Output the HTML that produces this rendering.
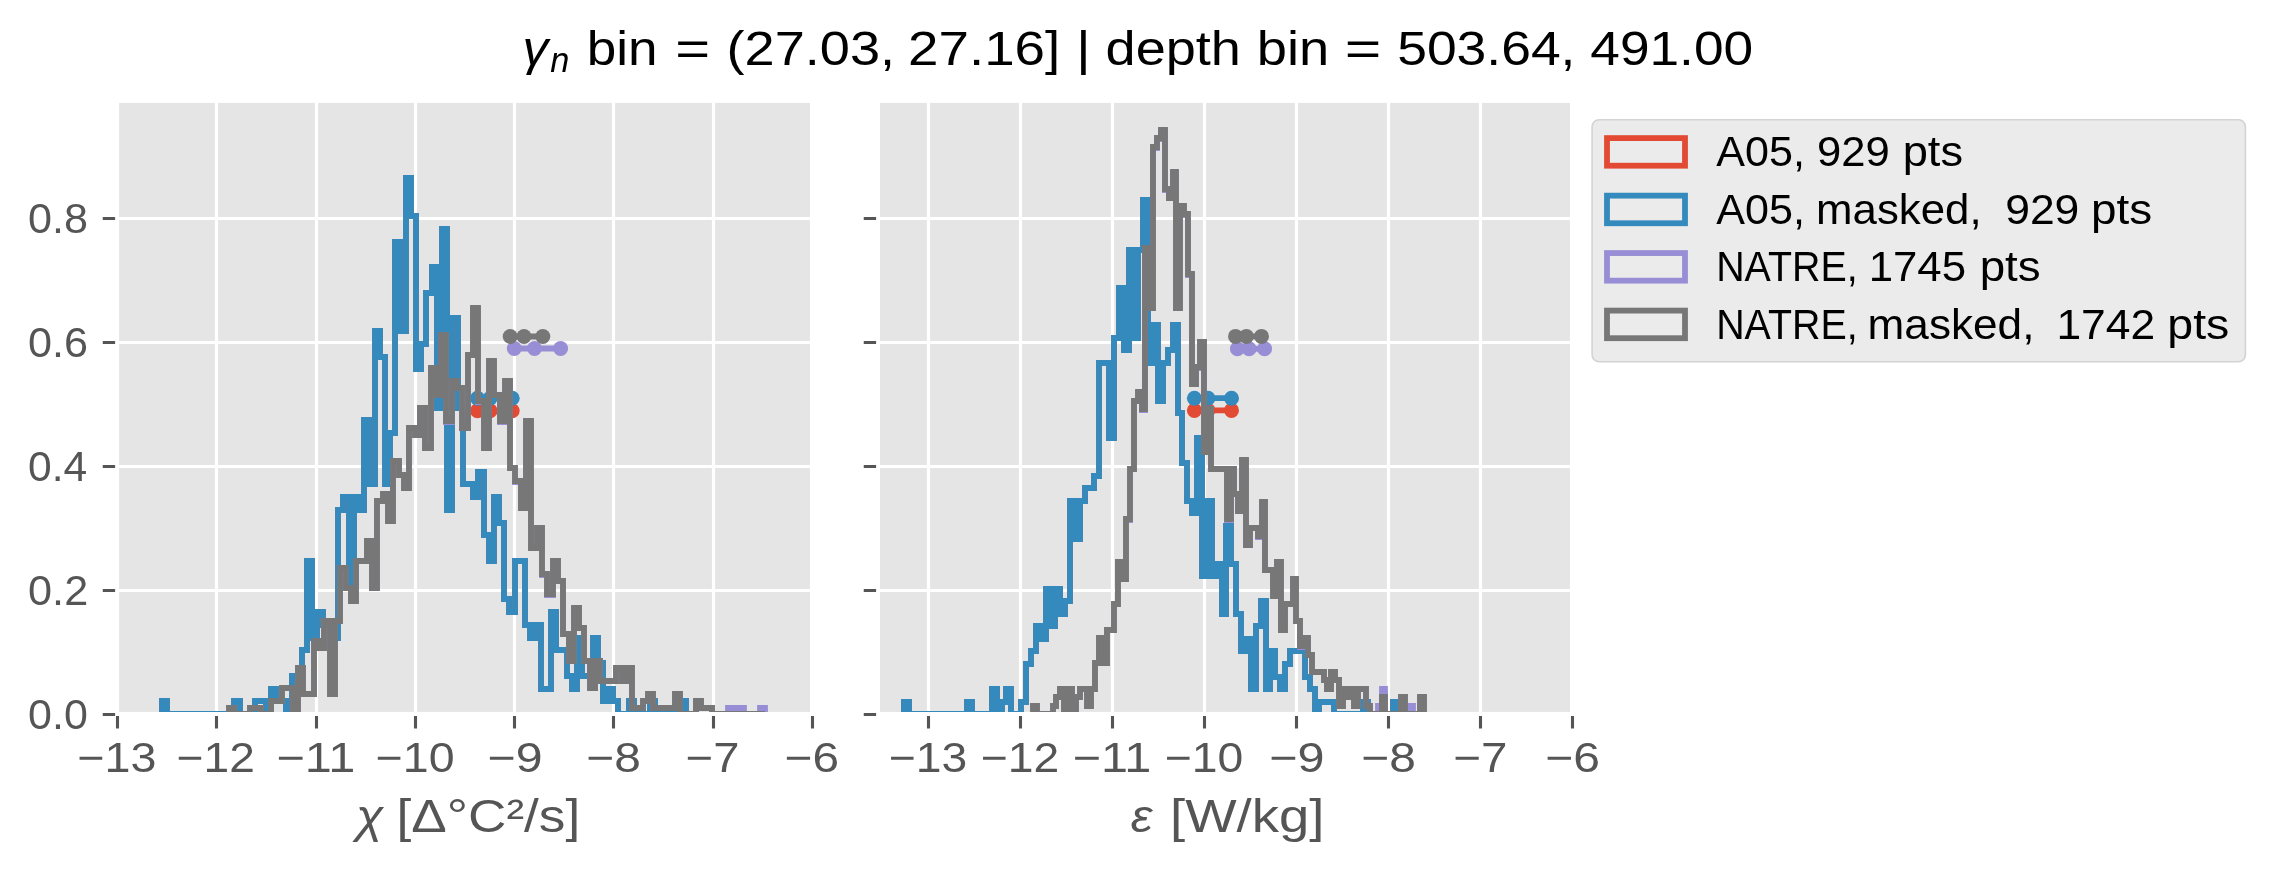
<!DOCTYPE html>
<html><head><meta charset="utf-8"><title>hist</title>
<style>html,body{margin:0;padding:0;background:#fff;overflow:hidden;}svg{display:block}text{font-family:"Liberation Sans",sans-serif;}</style></head><body>
<svg width="2272" height="872" viewBox="0 0 2272 872">
<rect width="2272" height="872" fill="#fff"/>
<defs>
<clipPath id="cl"><rect x="119.0" y="102.9" width="691.0" height="609.0"/></clipPath>
<clipPath id="cr"><rect x="880.0" y="102.9" width="690.0" height="609.0"/></clipPath>
<filter id="gs" filterUnits="userSpaceOnUse" x="0" y="0" width="2272" height="872"><feColorMatrix type="saturate" values="0"/></filter>
</defs>
<rect x="119.0" y="102.9" width="691.0" height="609.00" fill="#E5E5E5"/>
<g clip-path="url(#cl)"><path d="M117.5 102.9V711.9M216.5 102.9V711.9M316.5 102.9V711.9M415.5 102.9V711.9M514.5 102.9V711.9M613.5 102.9V711.9M713.5 102.9V711.9M119.0 590.5H810.0M119.0 466.5H810.0M119.0 342.5H810.0M119.0 218.5H810.0" stroke="#fff" stroke-width="3.2" fill="none"/></g>
<path d="M117.5 716V728.5M216.5 716V728.5M316.5 716V728.5M415.5 716V728.5M514.5 716V728.5M613.5 716V728.5M713.5 716V728.5M812.5 716V728.5M102.75 714.5H115.10M102.75 590.5H115.10M102.75 466.5H115.10M102.75 342.5H115.10M102.75 218.5H115.10" stroke="#555555" stroke-width="3.1" fill="none"/>
<rect x="880.0" y="102.9" width="690.0" height="609.00" fill="#E5E5E5"/>
<g clip-path="url(#cr)"><path d="M928.5 102.9V711.9M1020.5 102.9V711.9M1112.5 102.9V711.9M1204.5 102.9V711.9M1296.5 102.9V711.9M1388.5 102.9V711.9M1480.5 102.9V711.9M880.0 590.5H1570.0M880.0 466.5H1570.0M880.0 342.5H1570.0M880.0 218.5H1570.0" stroke="#fff" stroke-width="3.2" fill="none"/></g>
<path d="M928.5 716V728.5M1020.5 716V728.5M1112.5 716V728.5M1204.5 716V728.5M1296.5 716V728.5M1388.5 716V728.5M1480.5 716V728.5M1572.5 716V728.5M863.75 714.5H876.10M863.75 590.5H876.10M863.75 466.5H876.10M863.75 342.5H876.10M863.75 218.5H876.10" stroke="#555555" stroke-width="3.1" fill="none"/>
<g clip-path="url(#cl)" fill="none" stroke-linejoin="miter" stroke-linecap="butt">
<path d="M162 714V701H167V714H234V701H240V714H255V701H266V714H271V689H276V701H286V714H292V676H302V650H307V561H312V638H317V612H323V625H333V638H338V510H343V497H349V586H354V497H359V510H364V420H369V484H375V331H380V357H385V484H390V433H395V242H400V331H406V178H411V216H416V369H421V344H426V293H432V267H437V408H442V229H447V510H452V318H458V408H463V484H473V497H478V472H484V535H489V561H494V497H499V523H504V599H509V612H515V561H525V625H530V638H535V625H541V689H551V612H556V650H567V676H572V689H577V638H582V676H593V638H598V663H603V701H608V689H613V701H618V714H629V701H634V714H650V701H655V714H681V701H686V714" stroke="#E24A33" stroke-width="5.8"/>
<path d="M477.50 410.80H512.20" stroke="#E24A33" stroke-width="5.8"/>
<circle cx="477.50" cy="410.80" r="7.5" fill="#E24A33" stroke="none"/>
<circle cx="490.10" cy="410.80" r="7.5" fill="#E24A33" stroke="none"/>
<circle cx="512.20" cy="410.80" r="7.5" fill="#E24A33" stroke="none"/>
<path d="M162 714V701H167V714H234V701H240V714H255V701H266V714H271V689H276V701H286V714H292V676H302V650H307V561H312V638H317V612H323V625H333V638H338V510H343V497H349V586H354V497H359V510H364V420H369V484H375V331H380V357H385V484H390V433H395V242H400V331H406V178H411V216H416V369H421V344H426V293H432V267H437V408H442V229H447V510H452V318H458V408H463V484H473V497H478V472H484V535H489V561H494V497H499V523H504V599H509V612H515V561H525V625H530V638H535V625H541V689H551V612H556V650H567V676H572V689H577V638H582V676H593V638H598V663H603V701H608V689H613V701H618V714H629V701H634V714H650V701H655V714H681V701H686V714" stroke="#348ABD" stroke-width="5.8"/>
<path d="M477.50 398.20H512.20" stroke="#348ABD" stroke-width="5.8"/>
<circle cx="477.50" cy="398.20" r="7.5" fill="#348ABD" stroke="none"/>
<circle cx="490.10" cy="398.20" r="7.5" fill="#348ABD" stroke="none"/>
<circle cx="512.20" cy="398.20" r="7.5" fill="#348ABD" stroke="none"/>
<path d="M229 714V708H234V714H250V708H261V714H271V701H282V688H293V714H298V668H303V694H314V641H319V648H324V621H330V694H335V621H340V568H346V588H351V601H356V561H367V541H372V588H377V501H383V495H388V521H393V462H399V475H404V488H409V428H415V435H420V408H425V448H431V369H436V395H441V335H446V422H452V382H457V388H462V428H468V355H473V309H478V402H484V448H489V362H494V395H500V422H505V382H510V468H515V482H521V508H526V422H531V548H537V528H542V575H547V595H553V561H558V581H563V634H569V661H574V608H579V628H584V661H590V688H595V661H600V681H616V668H622V681H627V668H632V708H643V701H648V694H653V708H675V694H680V714H696V701H701V708H712V714H728V708H744V714H760V708H765V714" stroke="#988ED5" stroke-width="5.8"/>
<path d="M229 714V708H234V714H250V708H261V714H271V701H282V688H293V714H298V668H303V694H314V641H319V648H324V621H330V694H335V621H340V568H346V588H351V601H356V561H367V541H372V588H377V501H383V494H388V521H393V461H399V475H404V488H409V428H415V435H420V408H425V448H431V368H436V395H441V335H446V421H452V381H457V388H462V428H468V355H473V308H478V401H484V448H489V361H494V395H500V421H505V381H510V468H515V481H521V508H526V421H531V548H537V528H542V574H547V594H553V561H558V581H563V634H569V661H574V608H579V628H584V661H590V688H595V661H600V681H616V668H622V681H627V668H632V708H643V701H648V694H653V708H675V694H680V714H696V701H701V708H712V714H765V714" stroke="#777777" stroke-width="5.8"/>
<path d="M514.30 348.50H560.60" stroke="#988ED5" stroke-width="5.8"/>
<circle cx="514.30" cy="348.50" r="7.5" fill="#988ED5" stroke="none"/>
<circle cx="534.50" cy="348.50" r="7.5" fill="#988ED5" stroke="none"/>
<circle cx="560.60" cy="348.50" r="7.5" fill="#988ED5" stroke="none"/>
<path d="M510.20 336.50H542.80" stroke="#777777" stroke-width="5.8"/>
<circle cx="510.20" cy="336.50" r="7.5" fill="#777777" stroke="none"/>
<circle cx="524.00" cy="336.50" r="7.5" fill="#777777" stroke="none"/>
<circle cx="542.80" cy="336.50" r="7.5" fill="#777777" stroke="none"/>
</g>
<g clip-path="url(#cr)" fill="none" stroke-linejoin="miter" stroke-linecap="butt">
<path d="M904 714V702H909V714H967V702H972V714H992V689H997V714H1002V702H1006V689H1011V714H1021V702H1026V664H1031V651H1036V626H1041V639H1046V589H1050V626H1055V589H1060V614H1065V601H1070V501H1075V539H1080V501H1085V488H1094V476H1099V363H1109V438H1114V338H1119V288H1124V350H1129V250H1134V338H1138V250H1143V200H1148V363H1153V325H1158V401H1163V363H1168V350H1173V325H1178V413H1182V463H1187V501H1192V513H1197V438H1202V576H1207V501H1212V576H1217V564H1222V614H1226V526H1231V564H1236V614H1241V651H1246V639H1251V689H1256V626H1261V601H1266V689H1270V651H1275V677H1280V689H1285V664H1290V651H1305V677H1310V689H1315V714H1319V702H1334V714H1363V702H1368V714H1393V702H1398V714" stroke="#E24A33" stroke-width="5.8"/>
<path d="M1194.40 410.40H1231.50" stroke="#E24A33" stroke-width="5.8"/>
<circle cx="1194.40" cy="410.40" r="7.5" fill="#E24A33" stroke="none"/>
<circle cx="1208.00" cy="410.40" r="7.5" fill="#E24A33" stroke="none"/>
<circle cx="1231.50" cy="410.40" r="7.5" fill="#E24A33" stroke="none"/>
<path d="M904 714V702H909V714H967V702H972V714H992V689H997V714H1002V702H1006V689H1011V714H1021V702H1026V664H1031V651H1036V626H1041V639H1046V589H1050V626H1055V589H1060V614H1065V601H1070V501H1075V539H1080V501H1085V488H1094V476H1099V363H1109V438H1114V338H1119V288H1124V350H1129V250H1134V338H1138V250H1143V200H1148V363H1153V325H1158V401H1163V363H1168V350H1173V325H1178V413H1182V463H1187V501H1192V513H1197V438H1202V576H1207V501H1212V576H1217V564H1222V614H1226V526H1231V564H1236V614H1241V651H1246V639H1251V689H1256V626H1261V601H1266V689H1270V651H1275V677H1280V689H1285V664H1290V651H1305V677H1310V689H1315V714H1319V702H1334V714H1363V702H1368V714H1393V702H1398V714" stroke="#348ABD" stroke-width="5.8"/>
<path d="M1194.40 398.20H1231.50" stroke="#348ABD" stroke-width="5.8"/>
<circle cx="1194.40" cy="398.20" r="7.5" fill="#348ABD" stroke="none"/>
<circle cx="1208.00" cy="398.20" r="7.5" fill="#348ABD" stroke="none"/>
<circle cx="1231.50" cy="398.20" r="7.5" fill="#348ABD" stroke="none"/>
<path d="M1033 714V706H1037V714H1053V706H1056V697H1060V689H1064V714H1068V689H1072V714H1076V697H1080V689H1087V706H1091V689H1095V663H1099V638H1103V663H1107V630H1114V604H1118V562H1122V579H1126V520H1130V469H1134V401H1138V393H1142V410H1145V249H1149V308H1153V148H1157V139H1161V131H1165V190H1169V198H1173V173H1176V308H1180V207H1184V215H1188V275H1192V384H1196V368H1200V342H1204V452H1207V410H1211V469H1227V520H1231V469H1234V494H1238V511H1242V461H1246V545H1250V528H1258V537H1262V503H1265V570H1273V596H1277V562H1281V630H1285V604H1293V579H1296V621H1300V647H1304V638H1308V655H1312V672H1324V680H1327V689H1331V672H1335V680H1339V706H1343V689H1347V697H1351V689H1354V706H1358V689H1366V706H1370V714H1378V706H1382V689H1385V714H1401V697H1405V714H1409V706H1413V714H1420V697H1424V714" stroke="#988ED5" stroke-width="5.8"/>
<path d="M1033 714V706H1037V714H1053V706H1056V697H1060V689H1064V714H1068V689H1072V714H1076V697H1080V689H1087V706H1091V689H1095V663H1099V638H1103V663H1107V630H1114V604H1118V562H1122V579H1126V519H1130V469H1134V401H1138V392H1142V409H1145V248H1149V308H1153V147H1157V138H1161V130H1165V189H1169V198H1173V172H1176V308H1180V206H1184V214H1188V274H1192V384H1196V367H1200V342H1204V452H1207V409H1211V469H1227V519H1231V469H1234V494H1238V511H1242V460H1246V545H1250V528H1258V536H1262V502H1265V570H1273V596H1277V562H1281V630H1285V604H1293V579H1296V621H1300V646H1304V638H1308V655H1312V672H1324V680H1327V689H1331V672H1335V680H1339V706H1343V689H1347V697H1351V689H1354V706H1358V689H1366V706H1370V714H1382V697H1385V714H1401V697H1405V714H1420V697H1424V714" stroke="#777777" stroke-width="5.8"/>
<path d="M1237.40 348.80H1264.60" stroke="#988ED5" stroke-width="5.8"/>
<circle cx="1237.40" cy="348.80" r="7.5" fill="#988ED5" stroke="none"/>
<circle cx="1249.10" cy="348.80" r="7.5" fill="#988ED5" stroke="none"/>
<circle cx="1264.60" cy="348.80" r="7.5" fill="#988ED5" stroke="none"/>
<path d="M1235.50 336.40H1261.50" stroke="#777777" stroke-width="5.8"/>
<circle cx="1235.50" cy="336.40" r="7.5" fill="#777777" stroke="none"/>
<circle cx="1246.40" cy="336.40" r="7.5" fill="#777777" stroke="none"/>
<circle cx="1261.50" cy="336.40" r="7.5" fill="#777777" stroke="none"/>
</g>
<rect x="1592.1" y="119.7" width="653.3" height="242.1" rx="7" ry="7" fill="#EBEBEB" stroke="#D3D3D3" stroke-width="1.6"/>
<rect x="1607" y="138.10" width="78" height="27.6" fill="none" stroke="#E24A33" stroke-width="5.8"/>
<rect x="1607" y="195.65" width="78" height="27.6" fill="none" stroke="#348ABD" stroke-width="5.8"/>
<rect x="1607" y="253.05" width="78" height="27.6" fill="none" stroke="#988ED5" stroke-width="5.8"/>
<rect x="1607" y="310.60" width="78" height="27.6" fill="none" stroke="#777777" stroke-width="5.8"/>
<g filter="url(#gs)">
<text x="522.63" y="64.9" font-size="47.5" fill="#000" text-anchor="start" textLength="25.8" lengthAdjust="spacingAndGlyphs" font-style="italic">γ</text>
<text x="550.16" y="72.0" font-size="34.5" fill="#000" text-anchor="start" textLength="19.06" lengthAdjust="spacingAndGlyphs" font-style="italic">n</text>
<text x="586.66" y="64.9" font-size="47.5" fill="#000" text-anchor="start" textLength="70.87" lengthAdjust="spacingAndGlyphs">bin</text>
<text x="675.17" y="64.9" font-size="47.5" fill="#000" text-anchor="start" textLength="34.89" lengthAdjust="spacingAndGlyphs">=</text>
<text x="726.54" y="64.9" font-size="47.5" fill="#000" text-anchor="start" textLength="168.49" lengthAdjust="spacingAndGlyphs">(27.03,</text>
<text x="908.06" y="64.9" font-size="47.5" fill="#000" text-anchor="start" textLength="152.26" lengthAdjust="spacingAndGlyphs">27.16]</text>
<text x="1075.94" y="64.9" font-size="47.5" fill="#000" text-anchor="start" textLength="14.84" lengthAdjust="spacingAndGlyphs">|</text>
<text x="1105.58" y="64.9" font-size="47.5" fill="#000" text-anchor="start" textLength="135.37" lengthAdjust="spacingAndGlyphs">depth</text>
<text x="1256.75" y="64.9" font-size="47.5" fill="#000" text-anchor="start" textLength="72.47" lengthAdjust="spacingAndGlyphs">bin</text>
<text x="1344.67" y="64.9" font-size="47.5" fill="#000" text-anchor="start" textLength="36.59" lengthAdjust="spacingAndGlyphs">=</text>
<text x="1397.16" y="64.9" font-size="47.5" fill="#000" text-anchor="start" textLength="178.31" lengthAdjust="spacingAndGlyphs">503.64,</text>
<text x="1590.3" y="64.9" font-size="47.5" fill="#000" text-anchor="start" textLength="162.85" lengthAdjust="spacingAndGlyphs">491.00</text>
<text x="28.09" y="729.4" font-size="42" fill="#555555" text-anchor="start" textLength="59.78" lengthAdjust="spacingAndGlyphs">0.0</text>
<text x="28.07" y="605.42" font-size="42" fill="#555555" text-anchor="start" textLength="60.12" lengthAdjust="spacingAndGlyphs">0.2</text>
<text x="28.12" y="481.44" font-size="42" fill="#555555" text-anchor="start" textLength="59.17" lengthAdjust="spacingAndGlyphs">0.4</text>
<text x="28.07" y="357.46" font-size="42" fill="#555555" text-anchor="start" textLength="60.03" lengthAdjust="spacingAndGlyphs">0.6</text>
<text x="28.07" y="233.48" font-size="42" fill="#555555" text-anchor="start" textLength="59.99" lengthAdjust="spacingAndGlyphs">0.8</text>
<text x="77.35" y="772.2" font-size="42" fill="#555555" text-anchor="start" textLength="79.21" lengthAdjust="spacingAndGlyphs">−13</text>
<text x="888.71" y="772.2" font-size="42" fill="#555555" text-anchor="start" textLength="78.48" lengthAdjust="spacingAndGlyphs">−13</text>
<text x="176.61" y="772.2" font-size="42" fill="#555555" text-anchor="start" textLength="78.2" lengthAdjust="spacingAndGlyphs">−12</text>
<text x="980.74" y="772.2" font-size="42" fill="#555555" text-anchor="start" textLength="78.48" lengthAdjust="spacingAndGlyphs">−12</text>
<text x="276.47" y="772.2" font-size="42" fill="#555555" text-anchor="start" textLength="78.89" lengthAdjust="spacingAndGlyphs">−11</text>
<text x="1072.65" y="772.2" font-size="42" fill="#555555" text-anchor="start" textLength="78.7" lengthAdjust="spacingAndGlyphs">−11</text>
<text x="375.61" y="772.2" font-size="42" fill="#555555" text-anchor="start" textLength="78.92" lengthAdjust="spacingAndGlyphs">−10</text>
<text x="1164.71" y="772.2" font-size="42" fill="#555555" text-anchor="start" textLength="78.56" lengthAdjust="spacingAndGlyphs">−10</text>
<text x="487.55" y="772.2" font-size="42" fill="#555555" text-anchor="start" textLength="54.98" lengthAdjust="spacingAndGlyphs">−9</text>
<text x="1269.25" y="772.2" font-size="42" fill="#555555" text-anchor="start" textLength="55.33" lengthAdjust="spacingAndGlyphs">−9</text>
<text x="586.3" y="772.2" font-size="42" fill="#555555" text-anchor="start" textLength="54.53" lengthAdjust="spacingAndGlyphs">−8</text>
<text x="1361.28" y="772.2" font-size="42" fill="#555555" text-anchor="start" textLength="54.58" lengthAdjust="spacingAndGlyphs">−8</text>
<text x="685.64" y="772.2" font-size="42" fill="#555555" text-anchor="start" textLength="53.83" lengthAdjust="spacingAndGlyphs">−7</text>
<text x="1453.19" y="772.2" font-size="42" fill="#555555" text-anchor="start" textLength="54.26" lengthAdjust="spacingAndGlyphs">−7</text>
<text x="784.61" y="772.2" font-size="42" fill="#555555" text-anchor="start" textLength="54.42" lengthAdjust="spacingAndGlyphs">−6</text>
<text x="1545.33" y="772.2" font-size="42" fill="#555555" text-anchor="start" textLength="54.74" lengthAdjust="spacingAndGlyphs">−6</text>
<text x="355.96" y="832.3" font-size="46.5" fill="#555555" text-anchor="start" textLength="27.4" lengthAdjust="spacingAndGlyphs" font-style="italic">χ</text>
<text x="396.53" y="832.3" font-size="46.5" fill="#555555" text-anchor="start" textLength="183.68" lengthAdjust="spacingAndGlyphs">[Δ°C²/s]</text>
<text x="1130.84" y="832.3" font-size="46.5" fill="#555555" text-anchor="start" textLength="21.74" lengthAdjust="spacingAndGlyphs" font-style="italic">ε</text>
<text x="1170.06" y="832.3" font-size="46.5" fill="#555555" text-anchor="start" textLength="154.27" lengthAdjust="spacingAndGlyphs">[W/kg]</text>
<text x="1716.29" y="166.0" font-size="41.7" fill="#000" text-anchor="start" textLength="88.58" lengthAdjust="spacingAndGlyphs">A05,</text>
<text x="1817.0" y="166.0" font-size="41.7" fill="#000" text-anchor="start" textLength="72.73" lengthAdjust="spacingAndGlyphs">929</text>
<text x="1902.72" y="166.0" font-size="41.7" fill="#000" text-anchor="start" textLength="60.29" lengthAdjust="spacingAndGlyphs">pts</text>
<text x="1716.29" y="223.9" font-size="41.7" fill="#000" text-anchor="start" textLength="88.58" lengthAdjust="spacingAndGlyphs">A05,</text>
<text x="1816.07" y="223.9" font-size="41.7" fill="#000" text-anchor="start" textLength="165.52" lengthAdjust="spacingAndGlyphs">masked,</text>
<text x="2005.16" y="223.9" font-size="41.7" fill="#000" text-anchor="start" textLength="74.18" lengthAdjust="spacingAndGlyphs">929</text>
<text x="2091.07" y="223.9" font-size="41.7" fill="#000" text-anchor="start" textLength="61.09" lengthAdjust="spacingAndGlyphs">pts</text>
<text x="1716.13" y="281.0" font-size="41.7" fill="#000" text-anchor="start" textLength="141.46" lengthAdjust="spacingAndGlyphs">NATRE,</text>
<text x="1868.66" y="281.0" font-size="41.7" fill="#000" text-anchor="start" textLength="97.33" lengthAdjust="spacingAndGlyphs">1745</text>
<text x="1979.67" y="281.0" font-size="41.7" fill="#000" text-anchor="start" textLength="60.95" lengthAdjust="spacingAndGlyphs">pts</text>
<text x="1716.13" y="339.1" font-size="41.7" fill="#000" text-anchor="start" textLength="141.46" lengthAdjust="spacingAndGlyphs">NATRE,</text>
<text x="1867.58" y="339.1" font-size="41.7" fill="#000" text-anchor="start" textLength="166.83" lengthAdjust="spacingAndGlyphs">masked,</text>
<text x="2056.41" y="339.1" font-size="41.7" fill="#000" text-anchor="start" textLength="98.73" lengthAdjust="spacingAndGlyphs">1742</text>
<text x="2167.36" y="339.1" font-size="41.7" fill="#000" text-anchor="start" textLength="61.97" lengthAdjust="spacingAndGlyphs">pts</text>
</g>
</svg></body></html>
